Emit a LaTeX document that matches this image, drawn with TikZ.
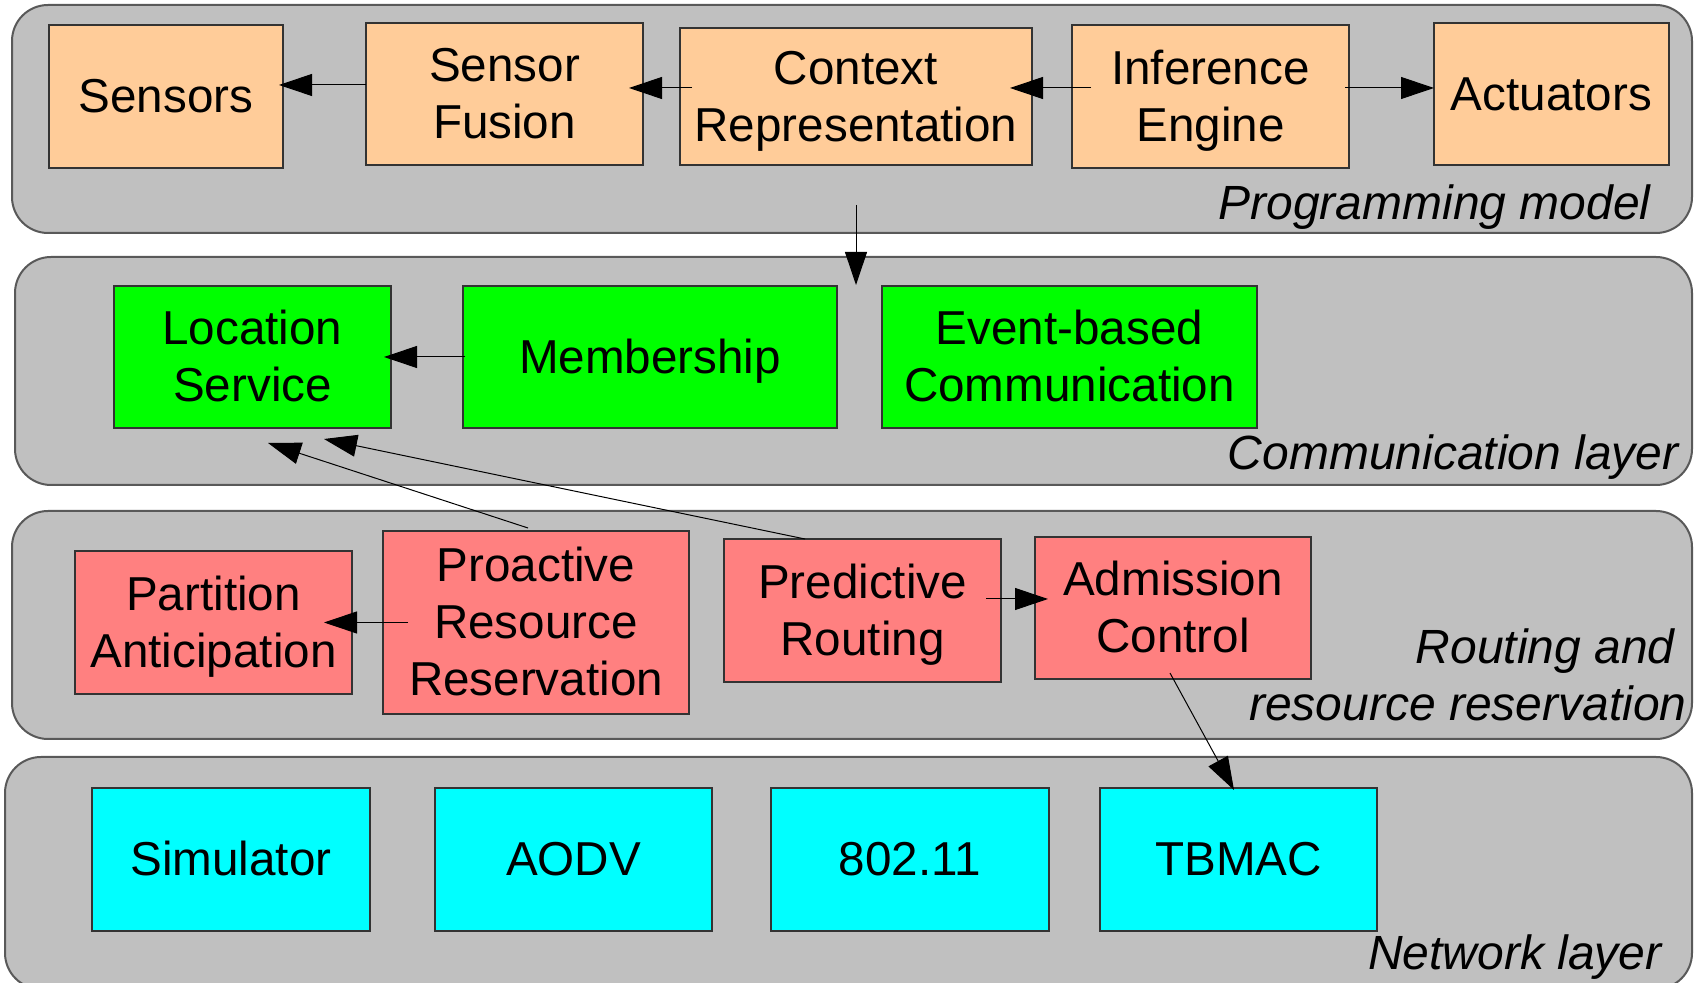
\documentclass[tikz,border=0pt]{standalone}
\usepackage{fontspec}
\setmainfont{Liberation Sans}
\usetikzlibrary{arrows.meta,calc}
\definecolor{layergray}{HTML}{C0C0C0}
\definecolor{peach}{HTML}{FFCC99}
\definecolor{lime}{HTML}{00FF00}
\definecolor{salmon}{HTML}{FF8080}
\definecolor{aqua}{HTML}{00FFFF}
\newcommand{\boxfont}{\fontsize{23.8pt}{28.5pt}\selectfont}
\newcommand{\labelfont}{\fontsize{24pt}{28.5pt}\selectfont\itshape}
% fixed ascent above the first line and fixed descent below the last one,
% so every box centres its lines the same way whatever letters they hold
% (the ascent rule is measured from the last baseline, hence one per line count)
\newcommand{\botstrut}{\rule[-5pt]{0pt}{5pt}}
\begin{document}
\begin{tikzpicture}[x=0.5pt,y=-0.5pt,
  layer/.style={draw=black!65, line width=1pt, fill=layergray, rounded corners=18pt,
                inner sep=0pt, outer sep=0pt},
  box/.style={draw=black!80, line width=0.6pt, inner sep=0pt, outer sep=0pt,
              align=center, font=\boxfont,
              execute at begin node={\rule{0pt}{21.5pt}},
              execute at end node=\botstrut},
  twolines/.style={execute at begin node={\rule{0pt}{50pt}}},
  threelines/.style={execute at begin node={\rule{0pt}{78.5pt}}},
  pm/.style={box, fill=peach},
  cl/.style={box, fill=lime},
  rr/.style={box, fill=salmon},
  nl/.style={box, fill=aqua},
  arr/.style={-{Triangle[length=16.5pt,width=11pt]}, line width=0.5pt},
  lbl/.style={font=\labelfont, inner sep=0pt, anchor=base east}]
\useasboundingbox (0,0) rectangle (1694,983);
\clip (0,0) rectangle (1694,983);

% layers
\node[layer, minimum width=840pt, minimum height=114pt] (L1) at (852,119) {};
\node[layer, minimum width=838.5pt, minimum height=114pt] (L2) at (853.5,371) {};
\node[layer, minimum width=840pt, minimum height=114pt] (L3) at (852,625) {};
\node[layer, minimum width=843.5pt, minimum height=116pt] (L4) at (848.5,873) {};

\node[lbl] (l1) at (1651,220) {Programming model};
\node[lbl] (l2) at (1679,470) {Communication layer};
\node[lbl] (l3a) at (1675,664) {Routing and};
\node[lbl] (l3b) at (1687,721) {resource reservation};
\node[lbl] (l4) at (1662,970) {Network layer};

% programming model
\node[pm, minimum width=117pt, minimum height=71.5pt] (sens) at (166,96.5) {Sensors};
\node[pm, twolines, minimum width=138.5pt, minimum height=71pt] (fus) at (504.5,94) {Sensor\\Fusion};
\node[pm, twolines, minimum width=176pt, minimum height=68.5pt] (ctx) at (856,96.5) {Context\\Representation};
\node[pm, twolines, minimum width=138.5pt, minimum height=71.5pt] (inf) at (1210.5,96.5) {Inference\\Engine};
\node[pm, minimum width=117.5pt, minimum height=71pt] (act) at (1551.5,94) {Actuators};

% communication layer
\node[cl, twolines, minimum width=138.5pt, minimum height=71pt] (loc) at (252.5,357) {Location\\Service};
\node[cl, minimum width=187pt, minimum height=71pt] (mem) at (650,357) {Membership};
\node[cl, twolines, minimum width=187.5pt, minimum height=71pt] (evt) at (1069.5,357) {Event-based\\Communication};

% routing and resource reservation
\node[rr, twolines, minimum width=138.5pt, minimum height=71.5pt] (part) at (213.5,622.5) {Partition\\Anticipation};
\node[rr, threelines, minimum width=153pt, minimum height=91.5pt] (pro) at (536,622.5) {Proactive\\Resource\\Reservation};
\node[rr, twolines, minimum width=138.5pt, minimum height=71.5pt] (pred) at (862.5,610.5) {Predictive\\Routing};
\node[rr, twolines, minimum width=138pt, minimum height=71pt] (adm) at (1173,608) {Admission\\Control};

% network layer
\node[nl, minimum width=139pt, minimum height=71.5pt] (sim) at (231,859.5) {Simulator};
\node[nl, minimum width=138.5pt, minimum height=71.5pt] (aodv) at (573.5,859.5) {AODV};
\node[nl, minimum width=139pt, minimum height=71.5pt] (wifi) at (910,859.5) {802.11};
\node[nl, minimum width=138.5pt, minimum height=71.5pt] (tb) at (1238.5,859.5) {TBMAC};

% connectors
\draw[arr] ($(fus.west)+(0,-9)$) -- ($(sens.east)+(-4,-11.5)$);
\draw[arr] ($(ctx.west)+(12,-8.5)$) -- ($(fus.east)+(-14,-6)$);
\draw[arr] ($(inf.west)+(19,-8.5)$) -- ($(ctx.east)+(-22,-8.5)$);
\draw[arr] ($(inf.east)+(-4,-8.5)$) -- ($(act.west)+(0,-6)$);
\coordinate (down) at ($(L2.north)+(2.5,28)$);
\draw[arr] ($(ctx.south)+(0,40)$) -- (down);
\draw[arr] ($(mem.west)+(2,0)$) -- ($(loc.east)+(-7,0)$);
\draw[arr] ($(pro.north)+(-8,-3)$) -- ($(loc.south)+(15.5,15)$);
\draw[arr] ($(pred.north)+(-57.5,0)$) -- ($(loc.south)+(71.5,11)$);
\draw[arr] ($(pro.west)+(25,0)$) -- ($(part.east)+(-28,0)$);
\draw[arr] ($(pred.east)+(-15,-11.5)$) -- ($(adm.west)+(13,-9)$);
\draw[arr] ($(adm.south)+(-3,-6)$) -- ($(tb.north)+(-4.5,2)$);
\end{tikzpicture}
\end{document}
